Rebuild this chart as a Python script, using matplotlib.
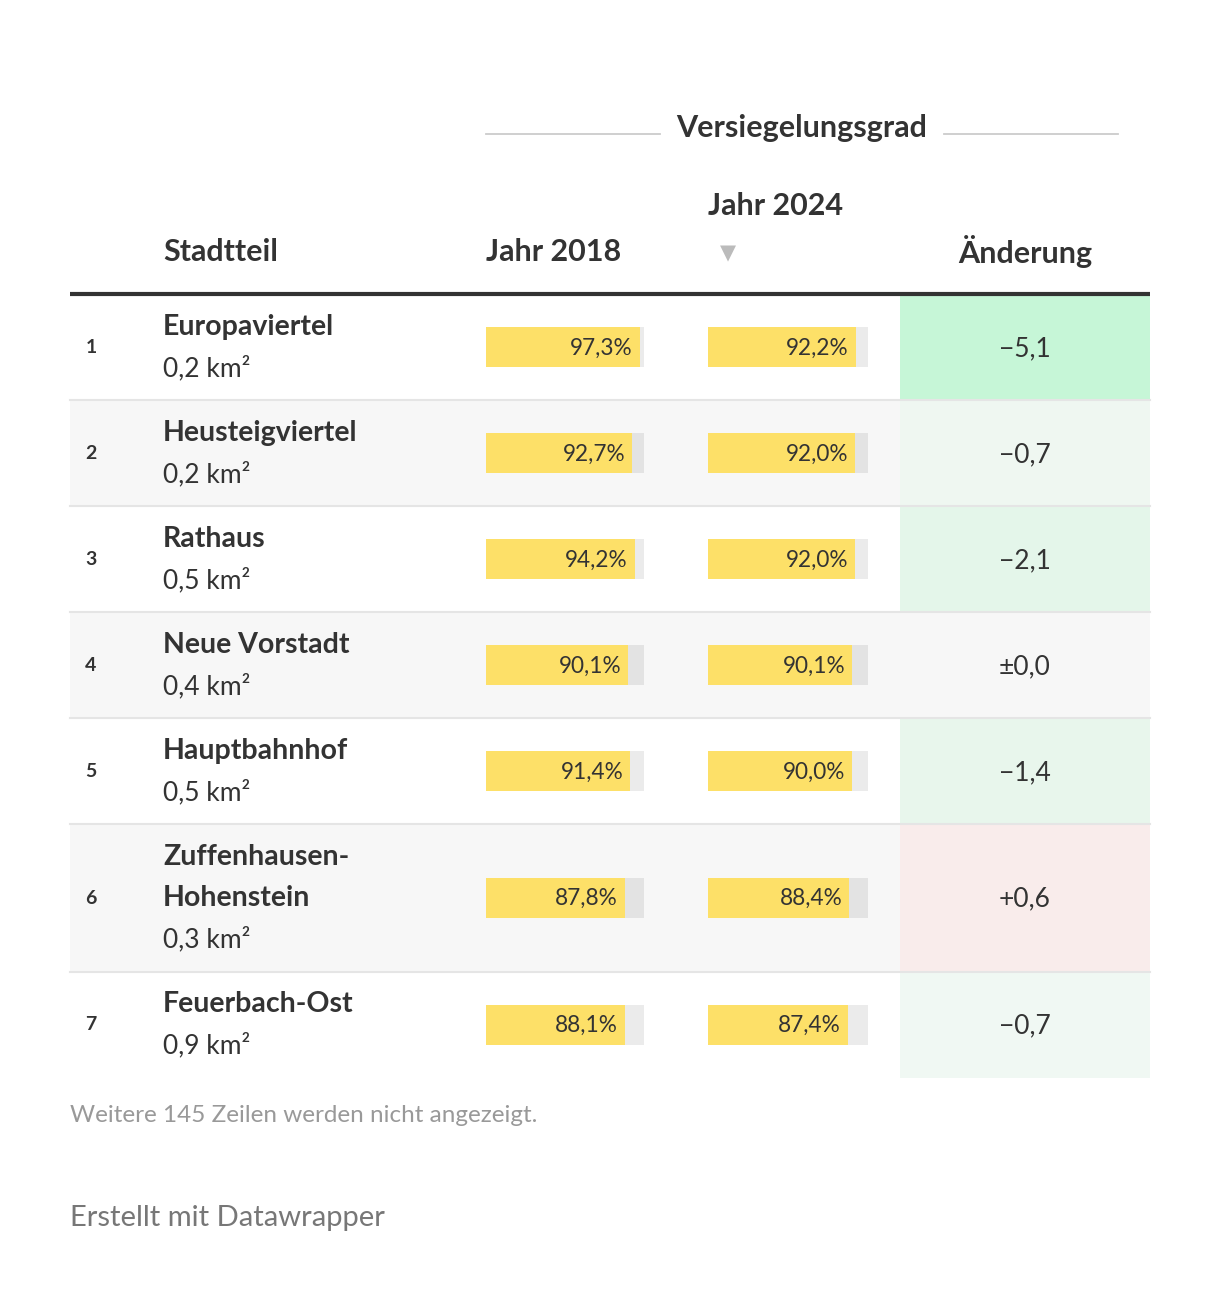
import numpy as np
import matplotlib
matplotlib.use('Agg')
import matplotlib.pyplot as plt

plt.rcParams['font.family'] = ['Lato', 'DejaVu Sans']

# Daten
rank = [1, 2, 3, 4, 5, 6, 7]
names = ['Europaviertel', 'Heusteigviertel', 'Rathaus', 'Neue Vorstadt',
         'Hauptbahnhof', 'Zuffenhausen-\nHohenstein', 'Feuerbach-Ost']
area = ['0,2', '0,2', '0,5', '0,4', '0,5', '0,3', '0,9']
val_2018 = [97.3, 92.7, 94.2, 90.1, 91.4, 87.8, 88.1]
val_2024 = [92.2, 92.0, 92.0, 90.1, 90.0, 88.4, 87.4]
change = [-5.1, -0.7, -2.1, 0.0, -1.4, 0.6, -0.7]
change_colors = ['#c6f6d7', '#eff7f1', '#e4f6ea', None, '#e8f6ec', '#f9eceb', '#f0f8f3']

# Layout (Pixel)
W, H = 1220, 1314
x_left, x_right = 70, 1150
x_rank, x_name = 91, 163
bar1_x, bar1_w = 486, 158
bar2_x, bar2_w = 708, 160
chg_x0, chg_x1 = 900, 1150
table_top = 294
line_h = 41.5
bar_h = 40

text_col = '#333333'
fs_head = 22
fs_name = 20.5
fs_area = 19
fs_chg = 19
fs_val = 16.3
fs_rank = 14

fig = plt.figure(figsize=(W / 100, H / 100), dpi=100)
ax = fig.add_axes([0, 0, 1, 1])
ax.set_xlim(0, W)
ax.set_ylim(H, 0)
ax.axis('off')


def fmt(v):
    return f'{v:.1f}'.replace('.', ',')


def fmt_chg(v):
    s = fmt(abs(v))
    if v < 0:
        return '\u2212' + s
    if v > 0:
        return '+' + s
    return '\u00b1' + s


# Kopfzeile
ax.text(802, 128, 'Versiegelungsgrad', fontsize=fs_head, fontweight='bold',
        color=text_col, ha='center', va='center')
ax.plot([486, 660], [134, 134], color='#cccccc', lw=1.3)
ax.plot([944, 1118], [134, 134], color='#cccccc', lw=1.3)
ax.text(x_name, 252, 'Stadtteil', fontsize=fs_head, fontweight='bold',
        color=text_col, ha='left', va='center')
ax.text(bar1_x, 252, 'Jahr 2018', fontsize=fs_head, fontweight='bold',
        color=text_col, ha='left', va='center')
ax.text(bar2_x, 206, 'Jahr 2024', fontsize=fs_head, fontweight='bold',
        color=text_col, ha='left', va='center')
ax.text(728, 253, '\u25bc', fontsize=15, color='#bbbbbb', ha='center', va='center',
        family=['DejaVu Sans'])
ax.text((chg_x0 + chg_x1) / 2, 252, '\u00c4nderung', fontsize=fs_head, fontweight='bold',
        color=text_col, ha='center', va='center')

# Zeilen
y = table_top
for i in range(len(names)):
    lines = names[i].split('\n') + [area[i] + ' km\u00b2']
    h = 23 + line_h * len(lines)
    yc = y + h / 2
    if i % 2 == 1:
        ax.add_patch(plt.Rectangle((x_left, y), x_right - x_left, h, color='#f7f7f7', lw=0, zorder=0))
    if change_colors[i]:
        ax.add_patch(plt.Rectangle((chg_x0, y), chg_x1 - chg_x0, h, color=change_colors[i], lw=0, zorder=0.5))
    if i > 0:
        ax.plot([x_left, x_right], [y, y], color='#e5e5e5', lw=1.5, zorder=1)

    ax.text(x_rank, yc + 6, str(rank[i]), fontsize=fs_rank, fontweight='bold',
            color=text_col, ha='center', va='baseline')
    for j, s in enumerate(lines):
        yb = yc + (j - (len(lines) - 1) / 2) * line_h + 8.5
        last = j == len(lines) - 1
        ax.text(x_name, yb, s, fontsize=fs_area if last else fs_name, color=text_col,
                ha='left', va='baseline', fontweight='normal' if last else 'bold')

    # Balken
    for x0, bw, v in [(bar1_x, bar1_w, val_2018[i]), (bar2_x, bar2_w, val_2024[i])]:
        sc = bw / 100
        ax.barh(yc, 100 * sc, left=x0, height=bar_h, color='#000000', alpha=0.08, lw=0, zorder=2)
        ax.barh(yc, v * sc, left=x0, height=bar_h, color='#fde068', lw=0, zorder=3)
        ax.text(x0 + v * sc - 7, yc + 7.5, fmt(v) + '%', fontsize=fs_val, color=text_col,
                ha='right', va='baseline', zorder=4)

    ax.text((chg_x0 + chg_x1) / 2, yc + 9, fmt_chg(change[i]), fontsize=fs_chg,
            color=text_col, ha='center', va='baseline', zorder=4)
    y += h

ax.plot([x_left, x_right], [table_top, table_top], color='#333333', lw=3, zorder=5,
        solid_capstyle='butt')

# Fußzeile
ax.text(x_left, 1115, 'Weitere 145 Zeilen werden nicht angezeigt.', fontsize=17.5,
        color='#999999', ha='left', va='center')
ax.text(x_left, 1218, 'Erstellt mit Datawrapper', fontsize=21,
        color='#777777', ha='left', va='center')

fig.savefig('out.png', dpi=100, facecolor='white')
